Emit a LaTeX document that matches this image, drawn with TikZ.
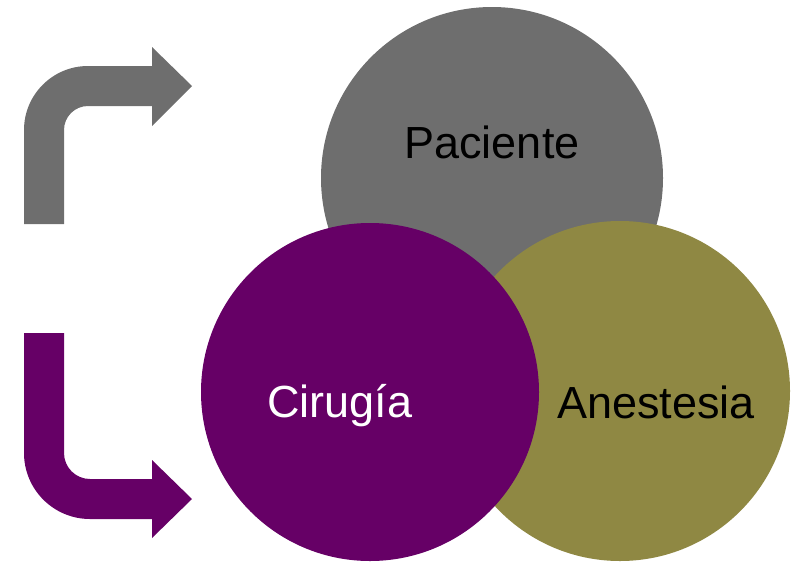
\documentclass[tikz,border=0pt]{standalone}
\usepackage{fontspec}
\setmainfont{Liberation Sans}
\definecolor{grisP}{HTML}{6E6E6E}
\definecolor{moradoC}{HTML}{660066}
\definecolor{olivaA}{HTML}{8F8843}
\tikzset{
	bola/.style={circle, inner sep=0pt},
	rotulo/.style={anchor=base, inner sep=0pt, font=\fontsize{45}{54}\selectfont}
}
\begin{document}
\begin{tikzpicture}[x=1pt,y=-1pt]
	
	\useasboundingbox (0,0) rectangle (794,562);
	
	\fill [grisP] (24,224) -- (24,130) arc [start angle=180, end angle=270, radius=64] -- (152,66) -- (152,47) -- (192,86) -- (152,126) -- (152,106) -- (88,106) arc [start angle=270, end angle=180, radius=24] -- (64,224) -- cycle;
	
	\fill [moradoC] (24,333) -- (24,453) arc [start angle=180, end angle=90, radius=66] -- (152,519) -- (152,538) -- (192,499) -- (152,460) -- (152,479) -- (90,479) arc [start angle=90, end angle=180, radius=26] -- (64,333) -- cycle;
	
	\node [bola, fill=grisP, minimum size=342pt] (paciente) at (492,178) {};
	
	\node [bola, fill=olivaA, minimum size=340pt] (anestesia) at (620,391) {};
	
	\node [bola, fill=moradoC, minimum size=338pt] (cirugia) at (370,392) {};
	
	\node [rotulo] (tpaciente) at (492,158) {Paciente};
	
	\node [rotulo, white] (tcirugia) at (340,417) {Cirugía};
	
	\node [rotulo] (tanestesia) at (656,418) {Anestesia};
	
\end{tikzpicture}
\end{document}
